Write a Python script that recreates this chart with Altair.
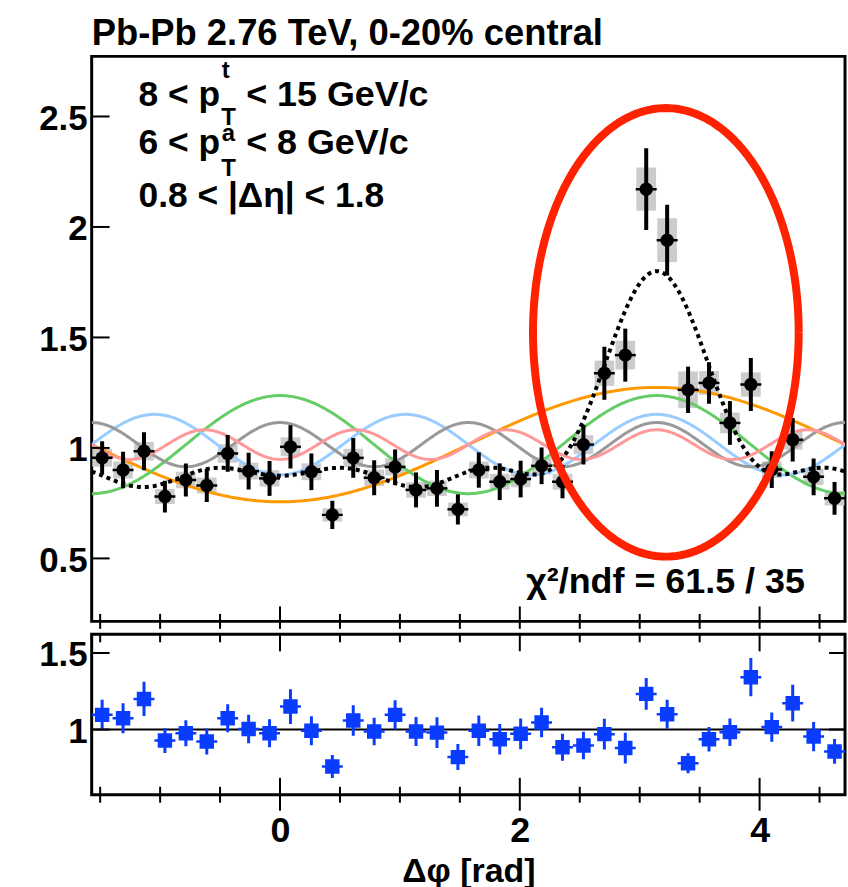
import math
import numpy as np
import pandas as pd
import altair as alt

FONT = "Liberation Sans"

# ---------------- data ----------------
N_BINS = 36
DPHI_MIN, DPHI_MAX = -math.pi / 2, 3 * math.pi / 2
BIN_W = (DPHI_MAX - DPHI_MIN) / N_BINS

corr_values = [0.955, 0.900, 0.985, 0.780, 0.855, 0.830, 0.975, 0.895, 0.862, 1.005,
               0.892, 0.697, 0.955, 0.865, 0.914, 0.810, 0.817, 0.722, 0.900, 0.847,
               0.859, 0.919, 0.847, 1.015, 1.338, 1.420, 2.171, 1.940, 1.263, 1.294,
               1.113, 1.287, 0.902, 1.037, 0.869, 0.772]
corr_stat = [0.075, 0.083, 0.086, 0.072, 0.075, 0.075, 0.083, 0.083, 0.079, 0.098,
             0.083, 0.064, 0.090, 0.079, 0.079, 0.079, 0.083, 0.068, 0.080, 0.083,
             0.083, 0.083, 0.075, 0.090, 0.120, 0.120, 0.185, 0.160, 0.105, 0.094,
             0.099, 0.120, 0.083, 0.098, 0.083, 0.074]
corr_sys = [0.040, 0.038, 0.042, 0.034, 0.037, 0.036, 0.042, 0.038, 0.037, 0.043,
            0.038, 0.030, 0.041, 0.037, 0.039, 0.035, 0.035, 0.031, 0.038, 0.036,
            0.037, 0.039, 0.036, 0.043, 0.057, 0.065, 0.098, 0.099, 0.083, 0.054,
            0.047, 0.055, 0.038, 0.044, 0.037, 0.033]

ratio_values = [1.096, 1.074, 1.200, 0.928, 0.976, 0.922, 1.074, 1.003, 0.976, 1.150,
                0.992, 0.759, 1.059, 0.987, 1.096, 0.987, 0.980, 0.820, 0.992, 0.937,
                0.972, 1.046, 0.885, 0.896, 0.970, 0.879, 1.233, 1.100, 0.780, 0.937,
                0.983, 1.342, 1.016, 1.172, 0.954, 0.857]
ratio_err = [0.098, 0.098, 0.112, 0.081, 0.085, 0.085, 0.092, 0.093, 0.092, 0.114,
             0.095, 0.075, 0.100, 0.090, 0.095, 0.095, 0.100, 0.085, 0.100, 0.100,
             0.100, 0.097, 0.088, 0.090, 0.100, 0.100, 0.103, 0.095, 0.065, 0.080,
             0.090, 0.125, 0.095, 0.120, 0.095, 0.081]

# Fourier components of the fit
fit_baseline = 1.015
harm_order = [1, 2, 3, 4, 5]
harm_coef = [-0.259, 0.222, -0.137, 0.100, -0.067]
harm_colors = ["#ff9900", "#66cc66", "#99ccff", "#999999", "#ff9999"]

# annotation ellipse (data units)
ell_cx, ell_cy, ell_rx, ell_ry = 3.218, 1.523, 1.108, 1.015

y_ticks_top = [0.5, 1.0, 1.5, 2.0, 2.5]
y_ticks_bot = [1.0, 1.5]
x_major = [0.0, 2.0, 4.0]
x_minor = [-1.5, -1.0, -0.5, 0.5, 1.0, 1.5, 2.5, 3.0, 3.5, 4.5]

title_text = "Pb-Pb 2.76 TeV, 0-20% central"
chi2_text = "χ²/ndf = 61.5 / 35"

# ---------------- frames ----------------
centers = [DPHI_MIN + (i + 0.5) * BIN_W for i in range(N_BINS)]
pts = pd.DataFrame({
    "x": centers,
    "xl": [c - BIN_W / 2 for c in centers],
    "xh": [c + BIN_W / 2 for c in centers],
    "bl": [c - 0.47 * BIN_W for c in centers],
    "bh": [c + 0.47 * BIN_W for c in centers],
    "v": corr_values,
    "lo": [v - e for v, e in zip(corr_values, corr_stat)],
    "hi": [v + e for v, e in zip(corr_values, corr_stat)],
    "slo": [v - e for v, e in zip(corr_values, corr_sys)],
    "shi": [v + e for v, e in zip(corr_values, corr_sys)],
})
rat = pd.DataFrame({
    "x": centers,
    "xl": [c - BIN_W / 2 for c in centers],
    "xh": [c + BIN_W / 2 for c in centers],
    "v": ratio_values,
    "lo": [v - e for v, e in zip(ratio_values, ratio_err)],
    "hi": [v + e for v, e in zip(ratio_values, ratio_err)],
})

grid = np.linspace(DPHI_MIN, DPHI_MAX, 481)
rows = []
for n, c in zip(harm_order, harm_coef):
    for g in grid:
        rows.append({"x": g, "v": fit_baseline + c * math.cos(n * g), "h": f"v{n}"})
harm_df = pd.DataFrame(rows)
sum_df = pd.DataFrame({
    "x": grid,
    "v": [fit_baseline + sum(c * math.cos(n * g) for n, c in zip(harm_order, harm_coef)) for g in grid],
})
tt = np.linspace(0, 2 * math.pi, 241)
ell_df = pd.DataFrame({"t": tt, "x": ell_cx + ell_rx * np.cos(tt), "v": ell_cy + ell_ry * np.sin(tt)})

# ---------------- geometry ----------------
W = 756
H_TOP = 567
H_BOT = 161
GAP = 7.5

XS = alt.Scale(domain=[DPHI_MIN, DPHI_MAX], nice=False, zero=False)
YS_TOP = alt.Scale(domain=[0.215, 2.772], nice=False, zero=False)
YS_BOT = alt.Scale(domain=[0.574, 1.622], nice=False, zero=False)

YAX_TOP = alt.Axis(values=y_ticks_top, format=".1~f", ticks=False, domain=False, grid=False,
                   labelFont=FONT, labelFontSize=35, labelFontWeight="bold", labelColor="black",
                   labelPadding=4.5, labelOffset=2, title=None)
YAX_BOT = alt.Axis(values=y_ticks_bot, format=".1~f", ticks=False, domain=False, grid=False,
                   labelFont=FONT, labelFontSize=35, labelFontWeight="bold", labelColor="black",
                   labelPadding=4.5, labelOffset=2, title=None)
XAX_BOT = alt.Axis(values=x_major, format="d", ticks=False, domain=False, grid=False,
                   labelFont=FONT, labelFontSize=36, labelFontWeight="bold", labelColor="black",
                   labelPadding=19, title="Δφ [rad]", titleFont=FONT, titleFontSize=34,
                   titleFontWeight="bold", titleColor="black", titlePadding=6)


def xt(f="x"):
    return alt.X(f"{f}:Q", scale=XS, axis=None)


def yt(f="v"):
    return alt.Y(f"{f}:Q", scale=YS_TOP, axis=YAX_TOP)


def xb(f="x"):
    return alt.X(f"{f}:Q", scale=XS, axis=XAX_BOT)


def yb(f="v"):
    return alt.Y(f"{f}:Q", scale=YS_BOT, axis=YAX_BOT)


one = pd.DataFrame({"a": [0]})

# ---------------- top panel ----------------
anchor = alt.Chart(one).mark_rect(color="white").encode(
    x=alt.value(-90.5), x2=alt.value(-89.5), y=alt.value(-53.3), y2=alt.value(-52.3))

sys_boxes = alt.Chart(pts).mark_rect(color="#cccccc", clip=True).encode(
    x=xt("bl"), x2="bh", y=yt("slo"), y2="shi")

harm_lines = alt.Chart(harm_df).mark_line(strokeWidth=3, clip=True, strokeJoin="round").encode(
    x=xt(), y=yt(),
    color=alt.Color("h:N", scale=alt.Scale(domain=[f"v{n}" for n in harm_order], range=harm_colors), legend=None),
    detail="h:N")

sum_line = alt.Chart(sum_df).mark_line(color="black", strokeWidth=4, strokeDash=[4, 4], strokeCap="butt",
                                       strokeJoin="round", clip=True).encode(x=xt(), y=yt())

stat_bars = alt.Chart(pts).mark_rule(color="black", strokeWidth=4, clip=True).encode(
    x=xt(), y=yt("lo"), y2="hi")
x_bars = alt.Chart(pts).mark_rule(color="black", strokeWidth=2.5, clip=True).encode(
    x=xt("xl"), x2="xh", y=yt())
dots = alt.Chart(pts).mark_point(shape="circle", filled=True, color="black", opacity=1, size=180,
                                 clip=True).encode(x=xt(), y=yt())

ellipse = alt.Chart(ell_df).mark_line(color="#ff2200", strokeWidth=8, strokeJoin="round", clip=True).encode(
    x=xt(), y=yt(), order="t:Q")


def txt(s, x, y, size, font=FONT):
    return alt.Chart(one).mark_text(text=s, align="left", baseline="alphabetic", font=font,
                                    fontSize=size, fontWeight="bold", color="black").encode(
        x=alt.value(x), y=alt.value(y))


texts = [
    txt(title_text, 0, -11.6, 36.5),
    txt("8 < p", 47, 50, 35.5),
    txt("t", 130.5, 21.5, 24),
    txt("T", 130, 68.5, 24),
    txt("< 15 GeV/c", 155, 50, 36),
    txt("6 < p", 47, 98.4, 35.5),
    txt("a", 130.5, 85, 24),
    txt("T", 130, 120, 24),
    txt("< 8 GeV/c", 155, 98.4, 36),
    txt("0.8 < |Δη| < 1.8", 47, 150.7, 35.5),
    txt(chi2_text, 436, 538.4, 36),
]

ytick_top = alt.Chart(pd.DataFrame({"v": y_ticks_top})).mark_rule(color="black", strokeWidth=2).encode(
    y=yt(), x=alt.value(0), x2=alt.value(18))
xminor_top = alt.Chart(pd.DataFrame({"x": x_minor})).mark_rule(color="black", strokeWidth=2).encode(
    x=xt(), y=alt.value(H_TOP - 7.5), y2=alt.value(H_TOP + GAP))
xmajor_top = alt.Chart(pd.DataFrame({"x": x_major})).mark_rule(color="black", strokeWidth=2).encode(
    x=xt(), y=alt.value(H_TOP - 15), y2=alt.value(H_TOP + GAP))

top = alt.layer(anchor, sys_boxes, harm_lines, sum_line, stat_bars, x_bars, dots, ellipse,
                *texts, ytick_top, xminor_top, xmajor_top).properties(width=W, height=H_TOP)

# ---------------- bottom panel ----------------
unity = alt.Chart(pd.DataFrame({"v": [1.0]})).mark_rule(color="black", strokeWidth=2).encode(
    y=yb(), x=alt.value(0), x2=alt.value(W))
r_bars = alt.Chart(rat).mark_rule(color="#0a3cff", strokeWidth=3, clip=True).encode(
    x=xb(), y=yb("lo"), y2="hi")
r_xbars = alt.Chart(rat).mark_rule(color="#0a3cff", strokeWidth=2.5, clip=True).encode(
    x=xb("xl"), x2="xh", y=yb())
r_pts = alt.Chart(rat).mark_point(shape="square", filled=True, color="#0a3cff", opacity=1, size=210,
                                  clip=True).encode(x=xb(), y=yb())

ytick_bl = alt.Chart(pd.DataFrame({"v": y_ticks_bot})).mark_rule(color="black", strokeWidth=2).encode(
    y=yb(), x=alt.value(0), x2=alt.value(18))
ytick_br = alt.Chart(pd.DataFrame({"v": y_ticks_bot})).mark_rule(color="black", strokeWidth=2).encode(
    y=yb(), x=alt.value(W - 16), x2=alt.value(W))
xminor_bt = alt.Chart(pd.DataFrame({"x": x_minor})).mark_rule(color="black", strokeWidth=2).encode(
    x=xb(), y=alt.value(0), y2=alt.value(8))
xmajor_bt = alt.Chart(pd.DataFrame({"x": x_major})).mark_rule(color="black", strokeWidth=2).encode(
    x=xb(), y=alt.value(0), y2=alt.value(17))
xminor_bb = alt.Chart(pd.DataFrame({"x": x_minor})).mark_rule(color="black", strokeWidth=2).encode(
    x=xb(), y=alt.value(H_BOT - 8), y2=alt.value(H_BOT + 8))
xmajor_bb = alt.Chart(pd.DataFrame({"x": x_major})).mark_rule(color="black", strokeWidth=2).encode(
    x=xb(), y=alt.value(H_BOT - 17), y2=alt.value(H_BOT + 16))

bottom = alt.layer(unity, r_bars, r_xbars, r_pts, ytick_bl, ytick_br,
                   xminor_bt, xmajor_bt, xminor_bb, xmajor_bb).properties(width=W, height=H_BOT)

chart = alt.vconcat(top, bottom, spacing=0).properties(
    padding=0,
    background="white",
    autosize=alt.AutoSizeParams(type="pad"),
).configure(
    padding=0,
    view=alt.ViewConfig(stroke="black", strokeWidth=3),
)

chart.save("out.html", embed_options={"renderer": "svg", "actions": False})
